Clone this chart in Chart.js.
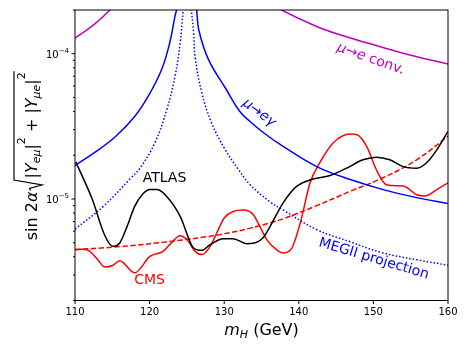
<!DOCTYPE html>
<html>
<head>
<meta charset="utf-8">
<script src="https://cdn.jsdelivr.net/npm/chart.js@4.4.1/dist/chart.umd.min.js"></script>
<style>
  html, body { margin: 0; padding: 0; background: #fff; }
  #wrap { width: 469px; height: 351px; }
</style>
</head>
<body>
<div id="wrap"><canvas id="chart" width="469" height="351"></canvas></div>
<script>
// axis ticks
var xTicks = [110, 120, 130, 140, 150, 160];
var yTicks = [2e-6, 3e-6, 4e-6, 5e-6, 6e-6, 7e-6, 8e-6, 9e-6,
              1e-5, 2e-5, 3e-5, 4e-5, 5e-5, 6e-5, 7e-5, 8e-5, 9e-5, 1e-4, 2e-4];
var yMajorTicks = [1e-5, 1e-4];
var yMajorExp = ['\u22125', '\u22124'];

// mu -> e conversion (two branches around the pole)
var convLeftMass  = [110, 112.5, 114.7, 115.6];
var convLeftLimit = [1.28e-4, 1.58e-4, 2.0e-4, 2.2e-4];
var convRightMass  = [137.0, 137.7, 142.4, 145.5, 149.1, 154.9, 160];
var convRightLimit = [2.15e-4, 2.0e-4, 1.54e-4, 1.35e-4, 1.19e-4, 9.8e-5, 8.5e-5];

// mu -> e gamma (MEG)
var megLeftMass  = [110, 112.7, 115.4, 118.0, 119.8, 121.6, 122.7, 123.4, 123.6, 124.0];
var megLeftLimit = [1.70e-5, 2.1e-5, 2.68e-5, 3.70e-5, 5.08e-5, 7.76e-5, 1.19e-4, 1.81e-4, 2.0e-4, 2.8e-4];
var megRightMass  = [125.9, 126.3, 126.6, 127.9, 130.3, 132.1, 133.5, 135.5, 137.9, 142.4, 146.9, 151.3, 155.5, 160];
var megRightLimit = [2.6e-4, 2.0e-4, 1.45e-4, 9.1e-5, 5.65e-5, 4.0e-5, 3.4e-5, 2.8e-5, 2.30e-5, 1.67e-5, 1.36e-5, 1.16e-5, 1.03e-5, 9.3e-6];

// MEGII projection
var megiiLeftMass  = [110, 113.8, 117.4, 118.7, 120.7, 122.3, 123.4, 124.1, 124.5, 124.7];
var megiiLeftLimit = [6.2e-6, 8.9e-6, 1.38e-5, 1.63e-5, 2.43e-5, 4.12e-5, 6.98e-5, 1.19e-4, 2.0e-4, 2.6e-4];
var megiiRightMass  = [125.3, 125.6, 125.9, 126.1, 127.0, 128.3, 130.1, 131.9, 133.5, 136.1, 137.9, 142.4, 146.9, 151.3, 156, 160];
var megiiRightLimit = [3.0e-4, 2.0e-4, 1.39e-4, 9.5e-5, 5.4e-5, 3.35e-5, 2.2e-5, 1.6e-5, 1.25e-5, 9.6e-6, 8.4e-6, 6.15e-6, 5.07e-6, 4.25e-6, 3.8e-6, 3.5e-6];

// ATLAS
var atlasMass = [110.1, 112.3, 114, 115.05, 116, 117, 118, 119, 120.05, 121, 122.3, 124.1, 125.9, 127, 128.1,
                 129.9, 131.2, 133, 133.9, 135.2, 136.1, 137.9, 139.7, 141.7, 144.2, 146.4, 148.6, 150.4,
                 152.2, 154, 155.8, 157.1, 158.5, 160];
var atlasLimit = [1.8e-5, 1.0e-5, 5.6e-6, 4.72e-6, 4.98e-6, 6.5e-6, 8.9e-6, 1.07e-5, 1.16e-5, 1.16e-5, 1.04e-5,
                  7.6e-6, 4.6e-6, 4.43e-6, 4.85e-6, 5.33e-6, 5.33e-6, 4.92e-6, 4.95e-6, 5.4e-6, 6.4e-6, 9.4e-6,
                  1.22e-5, 1.36e-5, 1.45e-5, 1.63e-5, 1.86e-5, 1.94e-5, 1.86e-5, 1.67e-5, 1.63e-5, 1.77e-5,
                  2.18e-5, 2.92e-5];

// CMS
var cmsMass = [110.1, 111.1, 112, 113, 114, 115.1, 116, 118, 120.05, 121.8, 122.7, 124.1, 125, 126.1, 127,
               128.1, 129, 130, 131.2, 132.6, 133.9, 135, 135.7, 137, 137.9, 139, 140.2, 141.5, 142.8,
               144.6, 146.9, 147.8, 149.1, 150.4, 151.8, 154, 155.8, 156.9, 158.5, 160];
var cmsLimit = [4.48e-6, 4.5e-6, 4.35e-6, 3.85e-6, 3.4e-6, 3.5e-6, 3.76e-6, 3.1e-6, 4.03e-6, 4.36e-6, 4.85e-6,
                5.58e-6, 5.26e-6, 4.36e-6, 4.14e-6, 4.7e-6, 5.83e-6, 7.4e-6, 8.2e-6, 8.4e-6, 7.8e-6, 6.15e-6,
                5.25e-6, 4.48e-6, 4.25e-6, 4.53e-6, 6.84e-6, 1.29e-5, 1.77e-5, 2.43e-5, 2.8e-5, 2.77e-5,
                2.3e-5, 1.59e-5, 1.25e-5, 1.23e-5, 1.07e-5, 1.05e-5, 1.16e-5, 1.29e-5];

// red dashed curve
var dashMass  = [110, 116, 122.7, 129.4, 133.5, 136.1, 137.9, 142.4, 146.9, 151.3, 155.8, 160];
var dashLimit = [4.48e-6, 4.7e-6, 5.1e-6, 5.68e-6, 6.3e-6, 6.84e-6, 7.3e-6, 9.0e-6, 1.13e-5, 1.40e-5, 1.86e-5, 2.7e-5];

// text labels in data coordinates
var notes = [
  { x: 122.0, y: 1.41e-5, angle: 0, color: '#000000', runs: [['ATLAS', 0]] },
  { x: 120.0, y: 2.83e-6, angle: 0, color: '#ff0000', runs: [['CMS', 0]] },
  { x: 149.7, y: 9.4e-5, angle: 19.6, color: '#bf00bf', runs: [['\u03bc', 1], ['\u2192', 0], ['e', 1], [' conv.', 0]] },
  { x: 134.8, y: 3.99e-5, angle: 37, color: '#0000ff', runs: [['\u03bc', 1], ['\u2192', 0], ['e\u03b3', 1]] },
  { x: 150.1, y: 3.95e-6, angle: 16.6, color: '#0000ff', runs: [['MEGII projection', 0]] }
];

var FAMILY = '"DejaVu Sans", sans-serif';

function pts(xs, ys) {
  return xs.map(function (x, i) { return { x: x, y: ys[i] }; });
}

// smooth: plain bezier tension for the theory curves, monotone for the measured limits
function curve(xs, ys, color, dash, smooth) {
  var ds = {
    data: pts(xs, ys),
    borderColor: color,
    borderWidth: 1.5,
    borderDash: dash || [],
    pointRadius: 0,
    fill: false,
    clip: 0
  };
  if (smooth) ds.tension = 0.4;
  else ds.cubicInterpolationMode = 'monotone';
  return ds;
}

function font(size, italic) {
  return (italic ? 'italic ' : '') + size + 'px ' + FAMILY;
}

function line(ctx, x1, y1, x2, y2) {
  ctx.beginPath();
  ctx.moveTo(x1, y1);
  ctx.lineTo(x2, y2);
  ctx.stroke();
}

// runs: [text, size, italic, dy]; drawn centred on 0
function drawRuns(ctx, runs) {
  var total = 0;
  runs.forEach(function (r) {
    if (r.gap) { total += r.gap; return; }
    ctx.font = font(r[1], r[2]);
    total += ctx.measureText(r[0]).width;
  });
  var u = -total / 2;
  var marks = {};
  runs.forEach(function (r) {
    if (r.gap) { marks[r.mark] = u; u += r.gap; return; }
    ctx.font = font(r[1], r[2]);
    ctx.fillText(r[0], u, r[3] || 0);
    u += ctx.measureText(r[0]).width;
  });
  marks.end = u;
  return marks;
}

var decor = {
  id: 'decor',
  afterDraw: function (chart) {
    var ctx = chart.ctx, a = chart.chartArea;
    var xs = chart.scales.x, ys = chart.scales.y;
    ctx.save();
    ctx.strokeStyle = '#000';
    ctx.fillStyle = '#000';
    ctx.lineWidth = 1;
    ctx.strokeRect(a.left, a.top, a.right - a.left, a.bottom - a.top);

    xTicks.forEach(function (v) {
      var px = xs.getPixelForValue(v);
      line(ctx, px, a.bottom, px, a.bottom + 3.5);
    });
    yTicks.forEach(function (v) {
      var major = yMajorTicks.indexOf(v) >= 0;
      var py = ys.getPixelForValue(v);
      line(ctx, a.left - (major ? 3.5 : 2), py, a.left, py);
    });

    // y tick labels 10^-n
    ctx.textBaseline = 'alphabetic';
    ctx.textAlign = 'left';
    yMajorTicks.forEach(function (v, i) {
      var py = ys.getPixelForValue(v);
      ctx.font = font(7, false);
      var we = ctx.measureText(yMajorExp[i]).width;
      ctx.font = font(10, false);
      var wb = ctx.measureText('10').width;
      var right = a.left - 6;
      ctx.fillText('10', right - we - wb, py + 4);
      ctx.font = font(7, false);
      ctx.fillText(yMajorExp[i], right - we, py - 1);
    });

    // x title: m_H (GeV)
    ctx.save();
    ctx.translate((a.left + a.right) / 2, 334.5);
    drawRuns(ctx, [['m', 16, true, 0], ['H', 11, true, 3.5], [' (GeV)', 16, false, 0]]);
    ctx.restore();

    // y title: sin 2a sqrt(|Y_emu|^2 + |Y_mue|^2)
    ctx.save();
    ctx.translate(36.5, (a.top + a.bottom) / 2 + 1);
    ctx.rotate(-Math.PI / 2);
    var m = drawRuns(ctx, [
      ['sin 2', 16, false, 0], ['\u03b1', 16, true, 0],
      { gap: 13, mark: 'rad' },
      ['|', 16, false, 0], ['Y', 16, true, 0], ['e\u03bc', 11, true, 3.5], ['|', 16, false, 0], ['2', 11, false, -11.5],
      [' + ', 16, false, 0],
      ['|', 16, false, 0], ['Y', 16, true, 0], ['\u03bce', 11, true, 3.5], ['|', 16, false, 0], ['2', 11, false, -11.5]
    ]);
    ctx.lineWidth = 1.2;
    ctx.beginPath();
    ctx.moveTo(m.rad + 1, -6);
    ctx.lineTo(m.rad + 3, -7);
    ctx.lineTo(m.rad + 6.5, 5.5);
    ctx.lineTo(m.rad + 11.5, -22.5);
    ctx.lineTo(m.end + 1, -22.5);
    ctx.stroke();
    ctx.restore();

    // curve labels
    notes.forEach(function (n) {
      ctx.save();
      ctx.fillStyle = n.color;
      ctx.translate(xs.getPixelForValue(n.x), ys.getPixelForValue(n.y));
      ctx.rotate(n.angle * Math.PI / 180);
      drawRuns(ctx, n.runs.map(function (r) { return [r[0], 14, !!r[1], 5]; }));
      ctx.restore();
    });
    ctx.restore();
  }
};

new Chart(document.getElementById('chart'), {
  type: 'line',
  data: {
    datasets: [
      curve(convLeftMass, convLeftLimit, '#bf00bf', null, true),
      curve(convRightMass, convRightLimit, '#bf00bf', null, true),
      curve(megLeftMass, megLeftLimit, '#0000ff', null, true),
      curve(megRightMass, megRightLimit, '#0000ff', null, true),
      curve(megiiLeftMass, megiiLeftLimit, '#0000ff', [1.5, 2], true),
      curve(megiiRightMass, megiiRightLimit, '#0000ff', [1.5, 2], true),
      curve(atlasMass, atlasLimit, '#000000'),
      curve(cmsMass, cmsLimit, '#ff0000'),
      curve(dashMass, dashLimit, '#ff0000', [5.5, 2.4], true)
    ]
  },
  options: {
    responsive: false,
    animation: false,
    events: [],
    layout: { padding: { top: 10, right: 21, left: 0, bottom: 0 } },
    plugins: { legend: { display: false }, tooltip: { enabled: false } },
    scales: {
      x: {
        type: 'linear', min: 110, max: 160,
        afterFit: function (s) { s.height = 50.5; },
        afterBuildTicks: function (s) { s.ticks = xTicks.map(function (v) { return { value: v }; }); },
        ticks: { font: { family: FAMILY, size: 10 }, color: '#000', padding: 6, maxRotation: 0, autoSkip: false },
        grid: { display: false, drawTicks: false },
        border: { display: false }
      },
      y: {
        type: 'logarithmic', min: 2e-6, max: 2e-4,
        afterFit: function (s) { s.width = 75; },
        afterBuildTicks: function (s) { s.ticks = yTicks.map(function (v) { return { value: v }; }); },
        ticks: { display: false },
        grid: { display: false, drawTicks: false },
        border: { display: false }
      }
    }
  },
  plugins: [decor]
});
</script>
</body>
</html>
